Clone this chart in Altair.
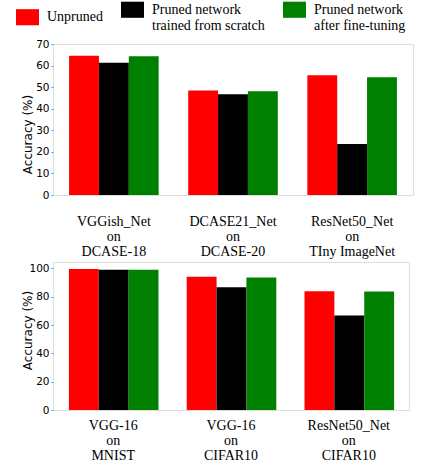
import altair as alt
import pandas as pd

series = ["Unpruned", "Pruned network|trained from scratch", "Pruned network|after fine-tuning"]
colors = ["#ff0000", "#000000", "#008000"]

top_groups = ["VGGish_Net|on|DCASE-18", "DCASE21_Net|on|DCASE-20", "ResNet50_Net|on|TIny ImageNet"]
top_unpruned = [64.6, 48.5, 55.5]
top_scratch = [61.3, 46.7, 23.6]
top_finetuned = [64.3, 48.1, 54.6]

bot_groups = ["VGG-16|on|MNIST", "VGG-16|on|CIFAR10", "ResNet50_Net|on|CIFAR10"]
bot_unpruned = [99.5, 94.1, 83.9]
bot_scratch = [99.1, 86.7, 66.8]
bot_finetuned = [99.1, 93.6, 83.7]


def make_df(groups, vals):
    rows = []
    for s, v in zip(series, vals):
        for g, x in zip(groups, v):
            rows.append({"group": g, "series": s, "acc": x})
    return pd.DataFrame(rows)


top_df = make_df(top_groups, [top_unpruned, top_scratch, top_finetuned])
bot_df = make_df(bot_groups, [bot_unpruned, bot_scratch, bot_finetuned])

color = alt.Color(
    "series:N",
    sort=series,
    scale=alt.Scale(domain=series, range=colors),
    legend=alt.Legend(
        title=None,
        orient="none",
        legendX=-37,
        legendY=-46,
        direction="horizontal",
        symbolType="M-1,-0.7H1V0.7H-1Z",
        symbolSize=529,
        symbolStrokeWidth=0,
        symbolOpacity=1,
        labelFont="Liberation Serif",
        labelFontSize=14,
        labelColor="#000000",
        labelExpr="split(datum.label, '|')",
        labelLimit=300,
        labelOffset=8,
        columnPadding=18,
    ),
)


def panel(df, w, h, ymax, yticks, label_pad, title_y):
    return (
        alt.Chart(df)
        .mark_bar()
        .encode(
            x=alt.X(
                "group:N",
                sort=None,
                scale=alt.Scale(paddingInner=0.248, paddingOuter=0.135),
                axis=alt.Axis(
                    title=None,
                    labelAngle=0,
                    ticks=False,
                    domain=False,
                    labelExpr="split(datum.label, '|')",
                    labelFont="Liberation Serif",
                    labelFontSize=14,
                    labelLineHeight=15,
                    labelColor="#000000",
                    labelPadding=label_pad,
                    labelBaseline="top",
                ),
            ),
            xOffset=alt.XOffset("series:N", sort=series, scale=alt.Scale(paddingInner=0, paddingOuter=0)),
            y=alt.Y(
                "acc:Q",
                scale=alt.Scale(domain=[0, ymax], nice=False, zero=True),
                axis=alt.Axis(
                    title="Accuracy (%)",
                    values=yticks,
                    grid=False,
                    domain=False,
                    tickSize=2,
                    tickColor="#888888",
                    labelFont="DejaVu Sans",
                    labelFontSize=10.5,
                    labelColor="#000000",
                    labelPadding=2,
                    titleFont="DejaVu Sans",
                    titleFontSize=12,
                    titleFontWeight="normal",
                    titleColor="#000000",
                    titleBaseline="bottom",
                    titleX=-19,
                    titleY=title_y,
                ),
            ),
            color=color,
        )
        .properties(width=w, height=h)
    )


top = panel(top_df, 360, 151, 70, [0, 10, 20, 30, 40, 50, 60, 70], 19, 90)
bot = panel(bot_df, 356, 148, 104.5, [0, 20, 40, 60, 80, 100], 8, 68)

chart = (
    alt.vconcat(top, bot, spacing=2)
    .configure_view(stroke="#aaaaaa", strokeWidth=1)
    .configure(padding={"left": 16, "top": -2, "right": 0, "bottom": 0})
)

chart.save("out.html", embed_options={"renderer": "svg", "actions": False})
